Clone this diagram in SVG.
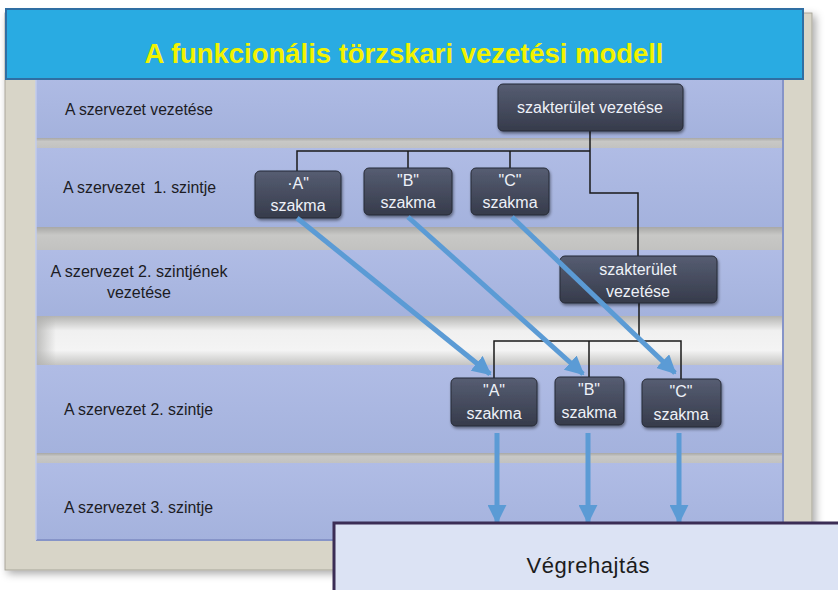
<svg xmlns="http://www.w3.org/2000/svg" width="838" height="590" viewBox="0 0 838 590">
<defs>
<style>
.lbl{font-family:"Liberation Sans",Arial,sans-serif;font-size:16px;fill:#1c1c24;white-space:pre}
.bt{font-family:"Liberation Sans",Arial,sans-serif;font-size:16px;fill:#eef1f8;text-anchor:middle}
.box{fill:url(#gBox);stroke:#262a36;stroke-width:1;filter:url(#sh)}
.band{fill:url(#gBand)}
.gap{fill:url(#gGap)}
.tree{fill:none;stroke:#1a1a1a;stroke-width:1.5}
.arr{fill:none;stroke:#5b9bd5;stroke-width:5;marker-end:url(#ah)}
</style>
<linearGradient id="gBox" x1="0" y1="0" x2="0" y2="1">
<stop offset="0" stop-color="#565d72"/><stop offset="1" stop-color="#363b4b"/>
</linearGradient>
<linearGradient id="gBand" x1="0" y1="0" x2="0" y2="1">
<stop offset="0" stop-color="#b0bce5"/><stop offset="1" stop-color="#a4b2dd"/>
</linearGradient>
<linearGradient id="gGap" x1="0" y1="0" x2="0" y2="1">
<stop offset="0" stop-color="#a8a8a6"/><stop offset="0.35" stop-color="#c8c8c6"/><stop offset="1" stop-color="#c2c2c0"/>
</linearGradient>
<linearGradient id="gWhite" x1="0" y1="0" x2="0" y2="1">
<stop offset="0" stop-color="#b4b4b2"/><stop offset="0.3" stop-color="#f0f0f0"/><stop offset="0.7" stop-color="#f4f4f4"/><stop offset="1" stop-color="#c4c4c2"/>
</linearGradient>
<linearGradient id="gWhiteL" x1="0" y1="0" x2="1" y2="0">
<stop offset="0" stop-color="#b0b0ae" stop-opacity="0.8"/><stop offset="1" stop-color="#b0b0ae" stop-opacity="0"/>
</linearGradient>
<filter id="sh" x="-10%" y="-10%" width="130%" height="140%">
<feDropShadow dx="1" dy="2" stdDeviation="1.5" flood-color="#000" flood-opacity="0.45"/>
</filter>
<filter id="fsh" x="-5%" y="-5%" width="110%" height="110%">
<feDropShadow dx="3" dy="3" stdDeviation="4" flood-color="#000" flood-opacity="0.35"/>
</filter>
<marker id="ah" viewBox="0 0 10 10" refX="9" refY="5" markerWidth="3.8" markerHeight="3.8" orient="auto">
<path d="M0,0 L10,5 L0,10 Z" fill="#5b9bd5"/>
</marker>
</defs>

<rect x="0" y="0" width="838" height="590" fill="#ffffff"/>

<g id="frame">
<rect x="5" y="13" width="807" height="557" fill="#d8d5c8" stroke="#a9a69a" stroke-width="1" filter="url(#fsh)"/>
<rect class="band" x="36" y="70" width="747" height="68"/>
<rect class="gap" x="36" y="138" width="747" height="10"/>
<rect class="band" x="36" y="148" width="747" height="79"/>
<rect class="gap" x="36" y="227" width="747" height="23"/>
<rect class="band" x="36" y="250" width="747" height="66"/>
<rect x="36" y="316" width="747" height="49" fill="url(#gWhite)"/>
<rect x="36" y="316" width="20" height="49" fill="url(#gWhiteL)"/>
<rect class="band" x="36" y="365" width="747" height="88"/>
<rect class="gap" x="36" y="453" width="747" height="10"/>
<rect class="band" x="36" y="463" width="747" height="77"/>
<path d="M36,540 L783,540 L783,70" fill="none" stroke="#8694c8" stroke-width="2"/>
<path d="M36,70 L36,540" fill="none" stroke="#c2cbec" stroke-width="1.5"/>
</g>

<g id="title">
<rect x="6" y="9" width="797" height="70" fill="#29abe2" stroke="#2f6ea3" stroke-width="2"/>
<text x="404" y="63" font-family="'Liberation Sans',Arial,sans-serif" font-size="27" font-weight="bold" fill="#f2f200" text-anchor="middle" textLength="519" lengthAdjust="spacingAndGlyphs">A funkcionális törzskari vezetési modell</text>
</g>

<g id="labels">
<text class="lbl" x="65" y="115" textLength="148" lengthAdjust="spacingAndGlyphs">A szervezet vezetése</text>
<text class="lbl" x="63" y="193" xml:space="preserve" textLength="153" lengthAdjust="spacingAndGlyphs">A szervezet  1. szintje</text>
<text class="lbl" x="139" y="277" text-anchor="middle" textLength="177" lengthAdjust="spacingAndGlyphs">A szervezet 2. szintjének</text>
<text class="lbl" x="139" y="298" text-anchor="middle">vezetése</text>
<text class="lbl" x="64" y="415" textLength="149" lengthAdjust="spacingAndGlyphs">A szervezet 2. szintje</text>
<text class="lbl" x="64" y="513" textLength="149" lengthAdjust="spacingAndGlyphs">A szervezet 3. szintje</text>
</g>

<g id="tree-connectors">
<path class="tree" d="M590,131 V193 H638 V256"/>
<path class="tree" d="M297,171 V151 H590"/>
<path class="tree" d="M408,151 V168"/>
<path class="tree" d="M510,151 V168"/>
<path class="tree" d="M639,303 V341"/>
<path class="tree" d="M494,378 V341 H681 V379"/>
<path class="tree" d="M589,341 V377"/>
</g>

<g id="n-top">
<rect class="box" x="498" y="84" width="185" height="47" rx="5"/>
<text class="bt" x="590" y="113">szakterület vezetése</text>
</g>
<g id="n-a1">
<rect class="box" x="255" y="171" width="86" height="47" rx="5"/>
<text class="bt" x="298" y="189">·A"</text>
<text class="bt" x="298" y="211">szakma</text>
</g>
<g id="n-b1">
<rect class="box" x="364" y="168" width="88" height="47" rx="5"/>
<text class="bt" x="408" y="186">"B"</text>
<text class="bt" x="408" y="208">szakma</text>
</g>
<g id="n-c1">
<rect class="box" x="471" y="168" width="78" height="47" rx="5"/>
<text class="bt" x="510" y="186">"C"</text>
<text class="bt" x="510" y="208">szakma</text>
</g>
<g id="n-mid">
<rect class="box" x="560" y="256" width="157" height="47" rx="5"/>
<text class="bt" x="638" y="275">szakterület</text>
<text class="bt" x="638" y="297">vezetése</text>
</g>
<g id="n-a2">
<rect class="box" x="451" y="378" width="86" height="48" rx="5"/>
<text class="bt" x="494" y="396">"A"</text>
<text class="bt" x="494" y="419">szakma</text>
</g>
<g id="n-b2">
<rect class="box" x="555" y="377" width="69" height="48" rx="5"/>
<text class="bt" x="589" y="395">"B"</text>
<text class="bt" x="589" y="418">szakma</text>
</g>
<g id="n-c2">
<rect class="box" x="642" y="379" width="79" height="48" rx="5"/>
<text class="bt" x="681" y="397">"C"</text>
<text class="bt" x="681" y="420">szakma</text>
</g>

<g id="arrow-connectors">
<line class="arr" x1="297" y1="218" x2="490" y2="374"/>
<line class="arr" x1="408" y1="217" x2="583" y2="374"/>
<line class="arr" x1="512" y1="217" x2="675" y2="373"/>
<line class="arr" x1="497" y1="433" x2="497" y2="522"/>
<line class="arr" x1="588" y1="433" x2="588" y2="522"/>
<line class="arr" x1="679" y1="433" x2="679" y2="522"/>
</g>

<g id="n-exec">
<rect x="334" y="523" width="510" height="72" fill="#dce3f4" stroke="#3b2d55" stroke-width="3"/>
<text x="588" y="573" font-family="'Liberation Sans',Arial,sans-serif" font-size="22" fill="#1c1c1c" text-anchor="middle" textLength="123">Végrehajtás</text>
</g>
</svg>
